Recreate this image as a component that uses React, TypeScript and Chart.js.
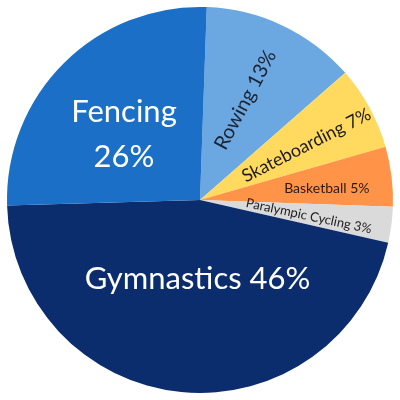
import React, { useEffect, useRef } from "react";
import { Chart, PieController, ArcElement, Plugin } from "chart.js";

Chart.register(PieController, ArcElement);

// slices, clockwise from just past 12 o'clock
const sports = ["Rowing", "Skateboarding", "Basketball", "Paralympic Cycling", "Gymnastics", "Fencing"];
const shares = [13, 7, 5, 3, 46, 26];
const sliceColors = ["#6ba8e2", "#ffda5f", "#ff9449", "#dadada", "#0b2d6d", "#1b6fc6"];

// label styling per slice
const labelLines = [
  ["Rowing 13%"],
  ["Skateboarding 7%"],
  ["Basketball 5%"],
  ["Paralympic Cycling 3%"],
  ["Gymnastics 46%"],
  ["Fencing", "26%"],
];
const labelColors = ["#1c2433", "#1c1c1c", "#2a1a10", "#222222", "#ffffff", "#ffffff"];
const labelSizes = [20, 18, 14, 13, 31, 31];
const labelRadius = [0.57, 0.62, 0.66, 0.57, 0.41, 0.52]; // fraction of outer radius
const labelAngleShift = [-1, 1.4, 1.6, 1, -3.8, -4.4]; // degrees off the slice middle
const labelTilt = [-62, -27, 0, 12, 0, 0]; // degrees

const sliceLabels: Plugin<"pie"> = {
  id: "sliceLabels",
  afterDraw(chart) {
    const { ctx } = chart;
    const arcs = chart.getDatasetMeta(0).data as any[];
    arcs.forEach((arc, i) => {
      const { x, y, startAngle, endAngle, outerRadius } = arc.getProps(
        ["x", "y", "startAngle", "endAngle", "outerRadius"],
        true
      );
      const mid = (startAngle + endAngle) / 2 + (labelAngleShift[i] * Math.PI) / 180;
      const r = outerRadius * labelRadius[i];
      const lx = x + Math.cos(mid) * r;
      const ly = y + Math.sin(mid) * r;
      const lines = labelLines[i];
      const lineGap = 45;

      ctx.save();
      ctx.translate(lx, ly);
      ctx.rotate((labelTilt[i] * Math.PI) / 180);
      ctx.font = `400 ${labelSizes[i]}px Lato`;
      ctx.fillStyle = labelColors[i];
      ctx.textAlign = "center";
      ctx.textBaseline = "middle";
      lines.forEach((line, j) => {
        const off = (j - (lines.length - 1) / 2) * lineGap;
        ctx.fillText(line, 0, off);
      });
      ctx.restore();
    });
  },
};

const App: React.FC = () => {
  const canvasRef = useRef<HTMLCanvasElement | null>(null);

  useEffect(() => {
    const ctx = canvasRef.current?.getContext("2d");
    if (!ctx) return;
    const chart = new Chart(ctx, {
      type: "pie",
      data: {
        labels: sports,
        datasets: [
          {
            data: shares,
            backgroundColor: sliceColors,
            borderWidth: 0,
          },
        ],
      },
      options: {
        animation: false,
        responsive: true,
        maintainAspectRatio: false,
        rotation: 2,
        layout: { padding: 7 },
        plugins: {
          legend: { display: false },
          tooltip: { enabled: false },
        },
      },
      plugins: [sliceLabels],
    });
    return () => {
      chart.destroy();
    };
  }, []);

  return (
    <div style={{ position: "fixed", left: 0, top: 0, width: 400, height: 400, background: "#fff" }}>
      <canvas ref={canvasRef} />
    </div>
  );
};

export default App;
